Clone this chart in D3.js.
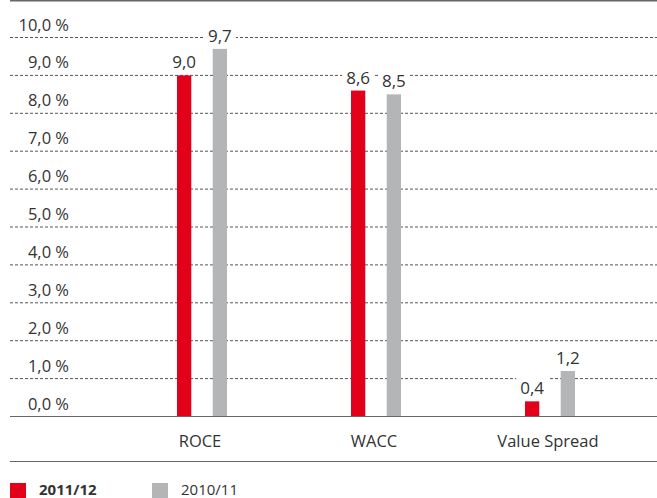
<!DOCTYPE html>
<html>
<head>
<meta charset="utf-8">
<script src="https://cdn.jsdelivr.net/npm/d3@7"></script>
<style>
html,body{margin:0;padding:0;background:#fff;}
svg{display:block;}
text{font-family:"Open Sans","Noto Sans",sans-serif;}
</style>
</head>
<body>
<svg id="chart" width="657" height="498"></svg>
<script>
const categories = ["ROCE", "WACC", "Value Spread"];
const series = ["2011/12", "2010/11"];
const values2011 = [9.0, 8.6, 0.4];
const values2010 = [9.7, 8.5, 1.2];
const yTicks = [0,1,2,3,4,5,6,7,8,9,10];
const colors = ["#e2001a", "#b3b5b7"];

const fmt = v => v.toFixed(1).replace(".", ",");
const svg = d3.select("#chart");
const W = 657;

const y = d3.scaleLinear().domain([0, 10]).range([416.5, 37.5]);
const x = d3.scaleBand().domain(categories).range([115, 637]).paddingInner(0).paddingOuter(0);
const xs = d3.scaleBand().domain(series).range([-25, 25]).paddingInner(0.6);

// top rule
svg.append("line").attr("x1", 10).attr("x2", W).attr("y1", 0.75).attr("y2", 0.75)
  .attr("stroke", "#666").attr("stroke-width", 1.5);

// gridlines
svg.append("g").selectAll("line").data(yTicks.filter(t => t > 0)).join("line")
  .attr("x1", 10).attr("x2", W)
  .attr("y1", d => y(d)).attr("y2", d => y(d))
  .attr("stroke", "#555").attr("stroke-width", 1).attr("stroke-dasharray", "3,2");

// tick labels
svg.append("g").selectAll("text").data(yTicks).join("text")
  .attr("x", 69).attr("y", d => y(d) - 7)
  .attr("text-anchor", "end").attr("font-size", 16.5).attr("fill", "#333")
  .text(d => fmt(d) + " %");

// bars
const data = categories.map((c, i) => ({c, vals: [values2011[i], values2010[i]]}));
const groups = svg.append("g").selectAll("g").data(data).join("g")
  .attr("transform", d => `translate(${x(d.c) + x.bandwidth()/2},0)`);

const items = groups.selectAll("g.item").data(d => d.vals.map((v, j) => ({v, s: series[j], j}))).join("g").attr("class", "item");

items.append("rect")
  .attr("x", d => xs(d.s)).attr("width", xs.bandwidth())
  .attr("y", d => y(d.v)).attr("height", d => y(0) - y(d.v))
  .attr("fill", d => colors[d.j]);

// value labels with white background
items.each(function(d) {
  const g = d3.select(this);
  const cx = xs(d.s) + xs.bandwidth()/2;
  const t = g.append("text")
    .attr("x", cx).attr("y", y(d.v) - 7)
    .attr("text-anchor", "middle").attr("font-size", 17).attr("fill", "#333")
    .text(fmt(d.v));
  const bb = t.node().getBBox();
  g.insert("rect", "text")
    .attr("x", bb.x - 4).attr("y", bb.y).attr("width", bb.width + 8).attr("height", bb.height)
    .attr("fill", "#fff");
});

// baseline
svg.append("line").attr("x1", 10).attr("x2", W).attr("y1", y(0)).attr("y2", y(0))
  .attr("stroke", "#666").attr("stroke-width", 1.2);

// category labels
svg.append("g").selectAll("text").data(categories).join("text")
  .attr("x", d => x(d) + x.bandwidth()/2 - 2).attr("y", 447)
  .attr("text-anchor", "middle").attr("font-size", 16.5).attr("fill", "#333")
  .text(d => d);

// bottom rule
svg.append("line").attr("x1", 10).attr("x2", W).attr("y1", 461.5).attr("y2", 461.5)
  .attr("stroke", "#666").attr("stroke-width", 1.2);

// legend
const legX = [10, 152];
const leg = svg.append("g").selectAll("g").data(series).join("g")
  .attr("transform", (d, i) => `translate(${legX[i]},483)`);
leg.append("rect").attr("width", 16).attr("height", 15).attr("fill", (d, i) => colors[i]);
leg.append("text").attr("x", 29).attr("y", 11.5)
  .attr("font-size", 15).attr("fill", "#333")
  .attr("font-weight", (d, i) => i === 0 ? "bold" : "normal")
  .text(d => d);
</script>
</body>
</html>
